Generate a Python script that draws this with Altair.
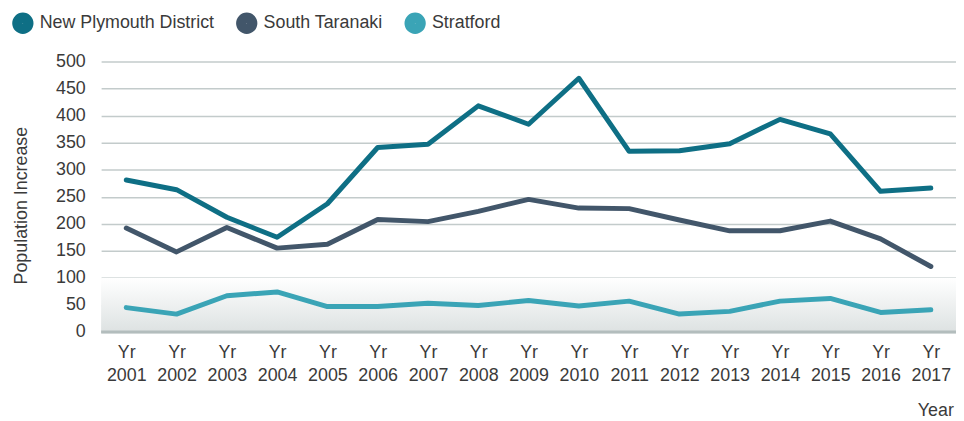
import altair as alt
import pandas as pd

years = [str(y) for y in range(2001, 2018)]
new_plymouth = [281, 263, 212, 175, 237, 341, 347, 418, 384, 469, 334, 335, 348, 393, 366, 260, 266]
south_taranaki = [192, 148, 193, 155, 162, 208, 204, 223, 245, 229, 228, 207, 187, 187, 205, 172, 121]
stratford = [45, 33, 67, 74, 47, 47, 53, 49, 58, 48, 57, 33, 38, 57, 62, 36, 41]
series = ["New Plymouth District", "South Taranaki", "Stratford"]
colors = ["#0e6f85", "#42566a", "#3aa4b6"]

rows = []
for name, vals in zip(series, [new_plymouth, south_taranaki, stratford]):
    for y, v in zip(years, vals):
        rows.append({"Year": y, "Series": name, "Value": v})
df = pd.DataFrame(rows)

band = pd.DataFrame({"y0": [0], "y1": [100]})
base = pd.DataFrame({"y": [0]})

FONT = "Liberation Sans"
TXT = "#3a3a3a"
FS = 18

yscale = alt.Scale(domain=[0, 500])
y_axis = alt.Axis(title="Population Increase", values=list(range(0, 501, 50)),
                  labelFontSize=FS, labelColor=TXT, labelFont=FONT,
                  labelPadding=16, labelOverlap=False, domain=False, ticks=False,
                  grid=True, gridColor="#c3cbcb", gridWidth=1.5,
                  titleFontSize=FS, titleFont=FONT, titleFontWeight="normal",
                  titleColor=TXT, titleX=-80, titleY=145,
                  titleAngle=-90, titleBaseline="middle", titleAlign="center")

x_enc = alt.X("Year:O", sort=years, scale=alt.Scale(type="point", padding=0.5),
              axis=alt.Axis(title="Year", labelExpr="['Yr', datum.label]", labelAngle=0,
                            labelFontSize=FS, labelColor=TXT, labelFont=FONT,
                            labelLineHeight=23, labelPadding=12, labelOverlap=False,
                            domain=False, ticks=False, grid=False,
                            titleFontSize=FS, titleFont=FONT, titleFontWeight="normal",
                            titleColor=TXT, titleAlign="left", titleX=824,
                            titleY=84, titleBaseline="alphabetic"))

gradient_band = alt.Chart(band).mark_rect(
    color=alt.Gradient(gradient="linear",
                       stops=[alt.GradientStop(color="#ffffff", offset=0),
                              alt.GradientStop(color="#dde2e2", offset=1)],
                       x1=0, x2=0, y1=0, y2=1)
).encode(
    x=alt.value(0), x2=alt.value(863),
    y=alt.Y("y1:Q", scale=yscale, axis=y_axis), y2="y0:Q"
)

baseline = alt.Chart(base).mark_rule(color="#b3bdbd", strokeWidth=3).encode(
    x=alt.value(0), x2=alt.value(863), y=alt.Y("y:Q", scale=yscale, axis=y_axis)
)

lines = alt.Chart(df).mark_line(strokeWidth=5, strokeCap="round", strokeJoin="round").encode(
    x=x_enc,
    y=alt.Y("Value:Q", scale=yscale, axis=y_axis),
    color=alt.Color("Series:N", sort=series,
                    scale=alt.Scale(domain=series, range=colors),
                    legend=alt.Legend(title=None, orient="none", direction="horizontal",
                                      legendX=-90, legendY=-50,
                                      symbolType="circle", symbolSize=110,
                                      symbolStrokeWidth=11, labelLimit=400,
                                      labelFontSize=FS, labelFont=FONT, labelColor=TXT,
                                      columnPadding=4, symbolOffset=0, labelOffset=6))
)

chart = alt.layer(gradient_band, baseline, lines).properties(
    width=863, height=273,
    autosize=alt.AutoSizeParams(type="none"),
    padding={"left": 94, "top": 52, "right": 0, "bottom": 100},
).configure_view(stroke=None)

chart.save("out.html", embed_options={"renderer": "svg", "actions": False})
